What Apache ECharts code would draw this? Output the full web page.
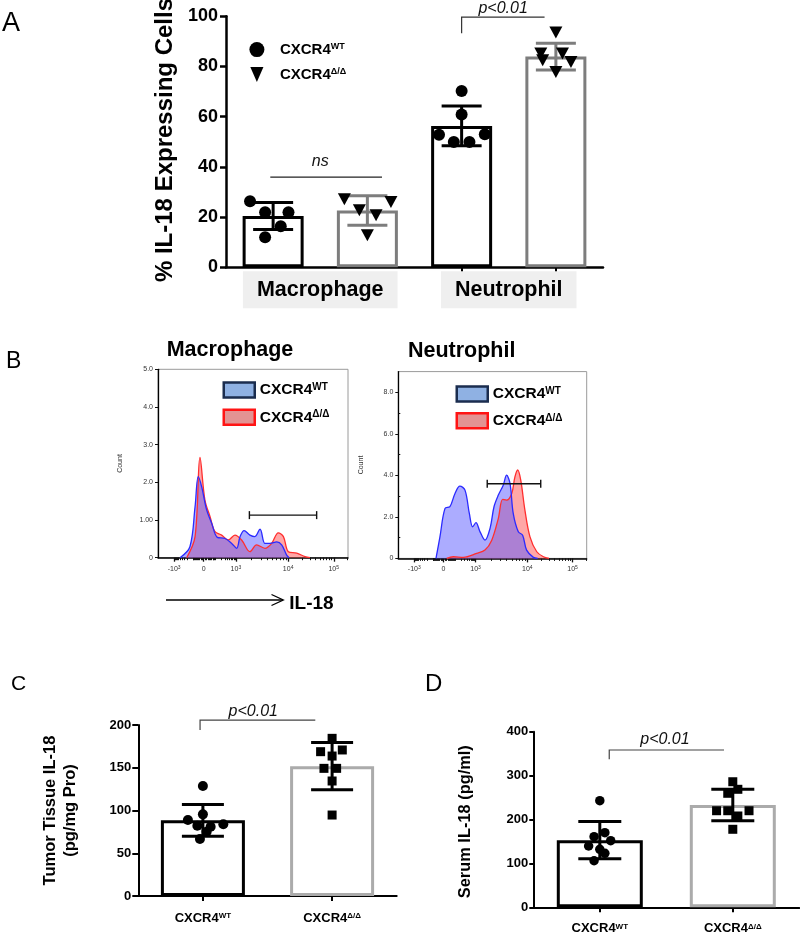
<!DOCTYPE html>
<html><head><meta charset="utf-8">
<script src="https://cdn.jsdelivr.net/npm/echarts@6/dist/echarts.min.js"></script>
<style>html,body{margin:0;padding:0;background:#fff}#c{width:800px;height:933px}</style>
</head><body><div id="c"></div>
<script>
// ===================== DATA =====================
// ---- Panel A: % IL-18 expressing cells ----
const aCellTypes = ['Macrophage', 'Neutrophil'];
const aBarX = [0.5, 1.5, 2.5, 3.5];            // Mac WT, Mac KO, Neu WT, Neu KO
const aMeans = [20.4, 22.6, 56.3, 83.9];
const aSD = [5.4, 5.9, 7.9, 5.3];
const aYTicks = [0, 20, 40, 60, 80, 100];
const aMacWT = [26.3, 21.9, 21.9, 16.3, 11.9];
const aMacWTJit = [-0.245, -0.085, 0.163, 0.081, -0.085];
const aMacKO = [27.1, 26.0, 22.7, 20.7, 12.7];
const aMacKOJit = [-0.244, 0.25, -0.085, 0.092, 0.0];
const aNeuWT = [70.2, 60.8, 52.8, 53.0, 49.9, 49.9];
const aNeuWTJit = [0, 0, -0.24, 0.246, -0.083, 0.083];
const aNeuKO = [93.5, 85.1, 85.1, 81.8, 82.5, 77.8];
const aNeuKOJit = [0, -0.16, 0.07, 0.16, -0.14, 0];
const aNsBracket = {x1: 0.47, x2: 1.655, y: 35.9, tickTo: null, text: 'ns', textX: 1.0, textY: 42.2};
const aPBracket = {x1: 2.5, x2: 3.38, y: 99.6, tickTo: 93.2, text: 'p<0.01', textX: 2.94, textY: 103.2};

// ---- Panel B: flow histograms (x = display channel 0-1000, y = count) ----
const bXTickChannels = [85, 240, 410, 685, 925];
const bXTickBase = ['-10', '0', '10', '10', '10'];
const bXTickExp = ['3', '', '3', '4', '5'];
const bMacYTicks = [0, 1, 2, 3, 4, 5];
const bMacYLabels = ['0', '1.00', '2.0', '3.0', '4.0', '5.0'];
const bNeuYTicks = [0, 2, 4, 6, 8];
const bNeuYLabels = ['0', '2.0', '4.0', '6.0', '8.0'];
const bNeuYMinor = [1, 3, 5, 7];
const bMacWT = [[116,0],[168,0.29],[195,1.35],[212,2.15],[230,1.88],[256,1.27],[283,0.91],[312,0.54],[353,0.51],[388,0.38],[414,0.25],[432,0.56],[453,0.72],[484,0.6],[510,0.56],[537,0.76],[563,0.38],[589,0.38],[625,0.42],[651,0.34],[677,0.07],[690,0]];
const bMacKO = [[151,0],[195,0.56],[221,2.66],[247,1.53],[274,1.09],[300,0.69],[335,0.6],[370,0.47],[405,0.6],[440,0.47],[484,0.16],[519,0.34],[563,0.25],[598,0.38],[633,0.66],[660,0.56],[686,0.16],[730,0.12],[774,0.03],[800,0]];
const bNeuWT = [[200,0],[221,1.04],[248,2.41],[274,2.49],[301,3.13],[327,3.48],[354,3.29],[377,2.17],[395,1.52],[412,1.72],[434,1.28],[460,0.88],[487,1.45],[508,2.49],[531,3.05],[557,3.53],[575,4.01],[593,3.61],[610,2.17],[637,1.28],[660,1.12],[681,0.4],[717,0.05],[740,0]];
const bNeuKO = [[257,0],[292,0.08],[345,0.05],[416,0.24],[460,0.4],[496,0.88],[531,1.93],[554,2.84],[575,2.81],[602,3.13],[619,3.93],[634,4.26],[650,3.77],[672,2.33],[699,1.04],[735,0.32],[770,0.08],[800,0]];
const bMacGate = [481, 835, 1.13];
const bNeuGate = [472, 756, 3.6];

// ---- Panel C: tumor tissue IL-18 ----
const cYTicks = [0, 50, 100, 150, 200];
const cMeans = [88.5, 151.8];
const cSD = [18.5, 27.6];
const cWT = [128.7, 95.5, 88.9, 82.2, 81.0, 83.9, 75.2, 66.7];
const cWTJit = [0, 0, -0.116, -0.043, 0.06, 0.158, 0.029, -0.023];
const cKO = [184.4, 168.8, 170.8, 163.7, 149.3, 149.3, 134.5, 94.7];
const cKOJit = [0, -0.089, 0.079, 0, -0.063, 0.035, 0, 0];
const cPBracket = {x1: 0.478, x2: 1.37, y: 205.8, tickTo: 194.2, text: 'p<0.01', textX: 0.89, textY: 215.6};

// ---- Panel D: serum IL-18 ----
const dYTicks = [0, 100, 200, 300, 400];
const dMeans = [153.0, 233.0];
const dSD = [42.5, 35.8];
const dWT = [242.9, 170.0, 160.9, 151.7, 139.6, 132.0, 123.0, 106.0];
const dWTJit = [0, 0.038, -0.043, 0.082, -0.084, 0, 0.038, -0.043];
const dKO = [286.0, 259.7, 268.8, 220.0, 220.0, 220.0, 208.0, 177.7];
const dKOJit = [0, -0.038, 0.038, -0.122, -0.038, 0.122, 0.038, 0];
const dPBracket = {x1: 0.571, x2: 1.434, y: 358.3, tickTo: 337, text: 'p<0.01', textX: 0.99, textY: 381};

// ===================== HELPERS =====================
const FONT = '"Liberation Sans", Arial, Helvetica, sans-serif';
const jitterPairs = (center, vals, jit) => vals.map((v, i) => [center + jit[i], v]);

function bChannel(v) {
  const c = bXTickChannels;
  if (v >= 1e4) return c[3] + (Math.log10(v) - 4) * (c[4] - c[3]);
  if (v >= 1e3) return c[2] + (Math.log10(v) - 3) * (c[3] - c[2]);
  const n = Math.asinh(Math.abs(v) / 60) / Math.asinh(1e3 / 60);
  return v >= 0 ? c[1] + n * (c[2] - c[1]) : c[1] - n * (c[1] - c[0]);
}
const bMinorVals = [10, 100, -10, -100, 2e5];
[1, 2, 3, 4].forEach(d => { for (let k = 2; k <= 9; k++) bMinorVals.push(k * Math.pow(10, d)); });
[1, 2].forEach(d => { for (let k = 2; k <= 9; k++) bMinorVals.push(-k * Math.pow(10, d)); });
const bMinorChannels = bMinorVals.map(bChannel).filter(c => c >= 0 && c <= 1000);

function errSeries(name, xi, yi, xs, means, sds, color, cap, lw) {
  return {
    type: 'custom', name, xAxisIndex: xi, yAxisIndex: yi, z: 4, silent: true,
    data: xs.map((x, i) => [x, means[i], sds[i]]),
    renderItem: (p, api) => {
      const x = api.value(0), m = api.value(1), s = api.value(2);
      const t = api.coord([x, m + s]), b = api.coord([x, m - s]);
      const st = {stroke: color, lineWidth: lw};
      return {type: 'group', children: [
        {type: 'line', shape: {x1: t[0], y1: t[1], x2: b[0], y2: b[1]}, style: st},
        {type: 'line', shape: {x1: t[0] - cap / 2, y1: t[1], x2: t[0] + cap / 2, y2: t[1]}, style: st},
        {type: 'line', shape: {x1: b[0] - cap / 2, y1: b[1], x2: b[0] + cap / 2, y2: b[1]}, style: st}
      ]};
    }
  };
}
function bracketSeries(name, xi, yi, br, color, fs) {
  return {
    type: 'custom', name, xAxisIndex: xi, yAxisIndex: yi, z: 6, silent: true, clip: false,
    data: [[br.x1, br.y]],
    renderItem: (p, api) => {
      const pts = [api.coord([br.x2, br.y]), api.coord([br.x1, br.y])];
      if (br.tickTo != null) pts.push(api.coord([br.x1, br.tickTo]));
      const tp = api.coord([br.textX, br.textY]);
      return {type: 'group', children: [
        {type: 'polyline', shape: {points: pts}, style: {stroke: color, lineWidth: 1.2, fill: null}},
        {type: 'text', x: tp[0], y: tp[1], style: {text: br.text, font: 'italic ' + fs + 'px ' + FONT, fill: '#111',
          align: 'center', verticalAlign: 'middle', textAlign: 'center', textVerticalAlign: 'middle'}}
      ]};
    }
  };
}
function gateSeries(name, xi, yi, g) {
  return {
    type: 'custom', name, xAxisIndex: xi, yAxisIndex: yi, z: 8, silent: true,
    data: [g],
    renderItem: (p, api) => {
      const a = api.coord([api.value(0), api.value(2)]), b = api.coord([api.value(1), api.value(2)]);
      const st = {stroke: '#111', lineWidth: 1.4};
      return {type: 'group', children: [
        {type: 'line', shape: {x1: a[0], y1: a[1], x2: b[0], y2: b[1]}, style: st},
        {type: 'line', shape: {x1: a[0], y1: a[1] - 4, x2: a[0], y2: a[1] + 4}, style: st},
        {type: 'line', shape: {x1: b[0], y1: b[1] - 4, x2: b[0], y2: b[1] + 4}, style: st}
      ]};
    }
  };
}
function histSeries(name, xi, yi, data, line, fill) {
  return {type: 'line', name, xAxisIndex: xi, yAxisIndex: yi, data, smooth: 0.35, symbol: 'none', showSymbol: false,
    silent: true, lineStyle: {color: line, width: 1.3}, itemStyle: {color: line}, areaStyle: {color: fill, opacity: 1}};
}
const supRich = (bs, ss, color) => ({
  b: {fontSize: bs, fontWeight: 'bold', fontFamily: FONT, color: color || '#000', lineHeight: bs},
  s: {fontSize: ss, fontWeight: 'bold', fontFamily: FONT, color: color || '#000', verticalAlign: 'top', lineHeight: ss}
});
const genoFmt = key => key.indexOf('WT') === 0 ? '{b|CXCR4}{s|WT}' : '{b|CXCR4}{s|Δ/Δ}';
const bTickFmt = v => { const i = bXTickChannels.indexOf(v); return i < 0 ? '' : (bXTickExp[i] ? '{n|' + bXTickBase[i] + '}{e|' + bXTickExp[i] + '}' : '{n|' + bXTickBase[i] + '}'); };
const bTickRich = {n: {fontSize: 7, color: '#333', fontFamily: FONT, lineHeight: 8}, e: {fontSize: 5, color: '#333', fontFamily: FONT, verticalAlign: 'top', lineHeight: 5}};

// ===================== AXES =====================
const blackLine = w => ({show: true, lineStyle: {color: '#000', width: w}});
const noSplit = {show: false};
const xAxes = [
  // 0: panel A value axis
  {gridIndex: 0, type: 'value', min: 0, max: 4, position: 'bottom', axisLine: blackLine(2.5),
    axisTick: {show: true, customValues: [2.5, 3.5], length: 5, lineStyle: {color: '#000', width: 2}},
    axisLabel: {show: false}, splitLine: noSplit},
  // 1: panel A group label boxes
  {gridIndex: 0, type: 'category', data: aCellTypes, position: 'bottom', axisLine: {show: false}, axisTick: {show: false}, splitLine: noSplit,
    axisLabel: {margin: 4, fontSize: 21.5, fontWeight: 'bold', color: '#000', fontFamily: FONT, backgroundColor: '#efefef', padding: [8, 14, 7, 14], lineHeight: 22}},
  // 2,3: B macrophage major/minor
  {gridIndex: 1, type: 'value', min: 0, max: 1000, position: 'bottom', axisLine: blackLine(1.5),
    axisTick: {show: true, customValues: bXTickChannels, length: 4, lineStyle: {color: '#111', width: 1.3}},
    axisLabel: {customValues: bXTickChannels, formatter: bTickFmt, rich: bTickRich, margin: 7}, splitLine: noSplit},
  {gridIndex: 1, type: 'value', min: 0, max: 1000, position: 'bottom', axisLine: {show: false},
    axisTick: {show: true, customValues: bMinorChannels, length: 2.5, lineStyle: {color: '#111', width: 1}},
    axisLabel: {show: false}, splitLine: noSplit},
  // 4,5: B neutrophil major/minor
  {gridIndex: 2, type: 'value', min: 0, max: 1000, position: 'bottom', axisLine: blackLine(1.5),
    axisTick: {show: true, customValues: bXTickChannels, length: 4, lineStyle: {color: '#111', width: 1.3}},
    axisLabel: {customValues: bXTickChannels, formatter: bTickFmt, rich: bTickRich, margin: 7}, splitLine: noSplit},
  {gridIndex: 2, type: 'value', min: 0, max: 1000, position: 'bottom', axisLine: {show: false},
    axisTick: {show: true, customValues: bMinorChannels, length: 2.5, lineStyle: {color: '#111', width: 1}},
    axisLabel: {show: false}, splitLine: noSplit},
  // 6: C
  {gridIndex: 3, type: 'value', min: 0, max: 2, position: 'bottom', axisLine: blackLine(2),
    axisTick: {show: true, customValues: [0.5, 1.5], length: 5, lineStyle: {color: '#000', width: 2}},
    axisLabel: {customValues: [0.5, 1.5], formatter: v => genoFmt(v < 1 ? 'WT' : 'KO'), rich: supRich(13, 8), margin: 16}, splitLine: noSplit},
  // 7: D
  {gridIndex: 4, type: 'value', min: 0, max: 2, position: 'bottom', axisLine: blackLine(2),
    axisTick: {show: true, customValues: [0.5, 1.5], length: 5, lineStyle: {color: '#000', width: 2}},
    axisLabel: {customValues: [0.5, 1.5], formatter: v => genoFmt(v < 1 ? 'WT' : 'KO'), rich: supRich(13, 8), margin: 15}, splitLine: noSplit}
];
const yAxes = [
  {gridIndex: 0, type: 'value', min: 0, max: 100, interval: 20, axisLine: blackLine(2.5),
    axisTick: {show: true, length: 6, lineStyle: {color: '#000', width: 2.5}},
    axisLabel: {fontSize: 18, fontWeight: 'bold', color: '#000', fontFamily: FONT, margin: 8}, splitLine: noSplit},
  {gridIndex: 1, type: 'value', min: 0, max: 5, axisLine: blackLine(1.3),
    axisTick: {show: true, customValues: bMacYTicks, length: 3, lineStyle: {color: '#111', width: 1}},
    axisLabel: {customValues: bMacYTicks, formatter: v => bMacYLabels[bMacYTicks.indexOf(v)], fontSize: 7, color: '#333', fontFamily: FONT, margin: 5}, splitLine: noSplit},
  {gridIndex: 2, type: 'value', min: 0, max: 9, axisLine: blackLine(1.3),
    axisTick: {show: true, customValues: bNeuYTicks, length: 3, lineStyle: {color: '#111', width: 1}},
    axisLabel: {customValues: bNeuYTicks, formatter: v => bNeuYLabels[bNeuYTicks.indexOf(v)], fontSize: 7, color: '#333', fontFamily: FONT, margin: 5}, splitLine: noSplit},
  {gridIndex: 3, type: 'value', min: 0, max: 200, interval: 50, axisLine: blackLine(2),
    axisTick: {show: true, length: 6, lineStyle: {color: '#000', width: 2}},
    axisLabel: {fontSize: 13, fontWeight: 'bold', color: '#000', fontFamily: FONT, margin: 7}, splitLine: noSplit},
  {gridIndex: 4, type: 'value', min: 0, max: 400, interval: 100, axisLine: blackLine(2),
    axisTick: {show: true, length: 4, lineStyle: {color: '#000', width: 2}},
    axisLabel: {fontSize: 13, fontWeight: 'bold', color: '#000', fontFamily: FONT, margin: 5}, splitLine: noSplit},
  // 5: B neutrophil minor y ticks
  {gridIndex: 2, type: 'value', min: 0, max: 9, axisLine: {show: false},
    axisTick: {show: true, customValues: bNeuYMinor, length: 2, lineStyle: {color: '#111', width: 1}},
    axisLabel: {show: false}, splitLine: noSplit}
];

// ===================== SERIES =====================
const solid = {color: '#000', opacity: 1};
const series = [];
// Panel A
series.push({type: 'bar', name: 'A-bars', xAxisIndex: 0, yAxisIndex: 0, barWidth: 61, z: 2, silent: true,
  data: aMeans.map((m, i) => ({value: [aBarX[i], m], itemStyle: {color: '#fff', borderColor: i % 2 ? '#7d7d7d' : '#000', borderWidth: 3}}))});
series.push(errSeries('A-errWT', 0, 0, [aBarX[0], aBarX[2]], [aMeans[0], aMeans[2]], [aSD[0], aSD[2]], '#000', 40, 3));
series.push(errSeries('A-errKO', 0, 0, [aBarX[1], aBarX[3]], [aMeans[1], aMeans[3]], [aSD[1], aSD[3]], '#7d7d7d', 40, 3));
series.push({type: 'scatter', name: 'WT·A', xAxisIndex: 0, yAxisIndex: 0, symbol: 'circle', symbolSize: 12, z: 5, silent: true,
  itemStyle: solid, data: jitterPairs(aBarX[0], aMacWT, aMacWTJit).concat(jitterPairs(aBarX[2], aNeuWT, aNeuWTJit))});
series.push({type: 'scatter', name: 'KO·A', xAxisIndex: 0, yAxisIndex: 0, symbol: 'triangle', symbolRotate: 180, symbolSize: [13, 12], z: 5, silent: true,
  itemStyle: solid, data: jitterPairs(aBarX[1], aMacKO, aMacKOJit).concat(jitterPairs(aBarX[3], aNeuKO, aNeuKOJit))});
series.push(bracketSeries('A-ns', 0, 0, aNsBracket, '#222', 16));
series.push(bracketSeries('A-p', 0, 0, aPBracket, '#333', 16));
// Panel B
series.push(histSeries('KO·Bm', 2, 1, bMacKO, '#ff2e2e', 'rgba(255,80,80,0.5)'));
series.push(histSeries('WT·Bm', 2, 1, bMacWT, '#2a2aff', 'rgba(90,90,255,0.5)'));
series.push(gateSeries('Bm-gate', 2, 1, bMacGate));
series.push(histSeries('KO·Bn', 4, 2, bNeuKO, '#ff2e2e', 'rgba(255,80,80,0.5)'));
series.push(histSeries('WT·Bn', 4, 2, bNeuWT, '#2a2aff', 'rgba(90,90,255,0.5)'));
series.push(gateSeries('Bn-gate', 4, 2, bNeuGate));
// Panel C
series.push({type: 'bar', name: 'C-bars', xAxisIndex: 6, yAxisIndex: 3, barWidth: 84, z: 2, silent: true,
  data: cMeans.map((m, i) => ({value: [i + 0.5, m], itemStyle: {color: '#fff', borderColor: i ? '#ababab' : '#000', borderWidth: 3}}))});
series.push(errSeries('C-err', 6, 3, [0.5, 1.5], cMeans, cSD, '#000', 42, 3));
series.push({type: 'scatter', name: 'C-WT', xAxisIndex: 6, yAxisIndex: 3, symbol: 'circle', symbolSize: 10, z: 5, silent: true,
  itemStyle: solid, data: jitterPairs(0.5, cWT, cWTJit)});
series.push({type: 'scatter', name: 'C-KO', xAxisIndex: 6, yAxisIndex: 3, symbol: 'rect', symbolSize: 9, z: 5, silent: true,
  itemStyle: solid, data: jitterPairs(1.5, cKO, cKOJit)});
series.push(bracketSeries('C-p', 6, 3, cPBracket, '#444', 16));
// Panel D
series.push({type: 'bar', name: 'D-bars', xAxisIndex: 7, yAxisIndex: 4, barWidth: 86, z: 2, silent: true,
  data: dMeans.map((m, i) => ({value: [i + 0.5, m], itemStyle: {color: '#fff', borderColor: i ? '#ababab' : '#000', borderWidth: 3}}))});
series.push(errSeries('D-err', 7, 4, [0.5, 1.5], dMeans, dSD, '#000', 43, 3));
series.push({type: 'scatter', name: 'D-WT', xAxisIndex: 7, yAxisIndex: 4, symbol: 'circle', symbolSize: 9.5, z: 5, silent: true,
  itemStyle: solid, data: jitterPairs(0.5, dWT, dWTJit)});
series.push({type: 'scatter', name: 'D-KO', xAxisIndex: 7, yAxisIndex: 4, symbol: 'rect', symbolSize: 9, z: 5, silent: true,
  itemStyle: solid, data: jitterPairs(1.5, dKO, dKOJit)});
series.push(bracketSeries('D-p', 7, 4, dPBracket, '#444', 16));

// ===================== LEGENDS =====================
const legFmt = n => genoFmt(n);
const bLegItems = (wt, ko) => [
  {name: wt, icon: 'rect', itemStyle: {color: '#8fb1e3', borderColor: '#1b2d4f', borderWidth: 2.5, opacity: 1}},
  {name: ko, icon: 'rect', itemStyle: {color: '#e39393', borderColor: '#ff1414', borderWidth: 2.5, opacity: 1}}
];
const legends = [
  {orient: 'vertical', left: 249.4, top: 42.1, padding: 0, itemWidth: 36, itemHeight: 15, itemGap: 10, selectedMode: false, symbolRotate: 0,
    data: [{name: 'WT·A', icon: 'circle', itemStyle: solid}, {name: 'KO·A', icon: 'path://M0,0L14,0L7,16Z', itemStyle: solid}],
    formatter: legFmt, textStyle: {rich: supRich(15, 9)}},
  {orient: 'vertical', left: 222.5, top: 381.3, padding: 0, itemWidth: 31, itemHeight: 15, itemGap: 9.7, selectedMode: false,
    data: bLegItems('WT·Bm', 'KO·Bm'), formatter: legFmt, textStyle: {rich: supRich(15.5, 10)}},
  {orient: 'vertical', left: 455.5, top: 385.3, padding: 0, itemWidth: 31, itemHeight: 15, itemGap: 9.3, selectedMode: false,
    data: bLegItems('WT·Bn', 'KO·Bn'), formatter: legFmt, textStyle: {rich: supRich(15.5, 10)}}
];

// ===================== TEXT / DECORATION =====================
const txt = (x, y, text, font, opts) => Object.assign({type: 'text', x, y, silent: true,
  style: Object.assign({text, font, fill: '#000', align: 'center', verticalAlign: 'middle', textAlign: 'center', textVerticalAlign: 'middle'}, (opts && opts.style) || {})},
  opts && opts.rotation ? {rotation: opts.rotation} : {});
const R = Math.PI / 2;
const graphic = [
  txt(2, 23.5, 'A', '27px ' + FONT, {style: {align: 'left', textAlign: 'left'}}),
  txt(6, 362, 'B', '23px ' + FONT, {style: {align: 'left', textAlign: 'left'}}),
  txt(11, 684.5, 'C', '21px ' + FONT, {style: {align: 'left', textAlign: 'left'}}),
  txt(425, 684, 'D', '24px ' + FONT, {style: {align: 'left', textAlign: 'left'}}),
  txt(165, 140, '% IL-18 Expressing Cells', 'bold 24px ' + FONT, {rotation: R}),
  txt(230, 350, 'Macrophage', 'bold 21.5px ' + FONT),
  txt(461.7, 351, 'Neutrophil', 'bold 21.5px ' + FONT),
  txt(120.3, 463.5, 'Count', '7px ' + FONT, {rotation: R, style: {fill: '#333'}}),
  txt(360.6, 465, 'Count', '7px ' + FONT, {rotation: R, style: {fill: '#333'}}),
  {type: 'polyline', silent: true, shape: {points: [[166, 600], [283, 600]]}, style: {stroke: '#000', lineWidth: 1.3, fill: null}},
  {type: 'polyline', silent: true, shape: {points: [[271.5, 594.5], [283.3, 600], [271.5, 605.5]]}, style: {stroke: '#000', lineWidth: 1.3, fill: null}},
  txt(289.3, 603.5, 'IL-18', 'bold 19px ' + FONT, {style: {align: 'left', textAlign: 'left'}}),
  txt(60, 810.5, 'Tumor Tissue IL-18\n(pg/mg Pro)', 'bold 16.5px ' + FONT, {rotation: R, style: {lineHeight: 20}}),
  txt(465, 821.7, 'Serum IL-18 (pg/ml)', 'bold 16.4px ' + FONT, {rotation: R})
];

const frame = {show: true, borderColor: '#9a9a9a', borderWidth: 1, backgroundColor: 'transparent'};
const grids = [
  {left: 226, top: 16.2, width: 377, height: 251},
  Object.assign({left: 158, top: 369.3, width: 190, height: 188.4}, frame),
  Object.assign({left: 398.3, top: 371.6, width: 188.4, height: 186.8}, frame),
  {left: 138.3, top: 725, width: 258.4, height: 171},
  {left: 533.3, top: 731.7, width: 266, height: 175.6}
].map(g => Object.assign({containLabel: false, outerBoundsMode: 'none'}, g));

const chart = echarts.init(document.getElementById('c'), null, {renderer: 'canvas', width: 800, height: 933});
chart.setOption({
  animation: false,
  backgroundColor: '#fff',
  textStyle: {fontFamily: FONT},
  grid: grids, xAxis: xAxes, yAxis: yAxes, legend: legends, series, graphic
});
</script></body></html>
